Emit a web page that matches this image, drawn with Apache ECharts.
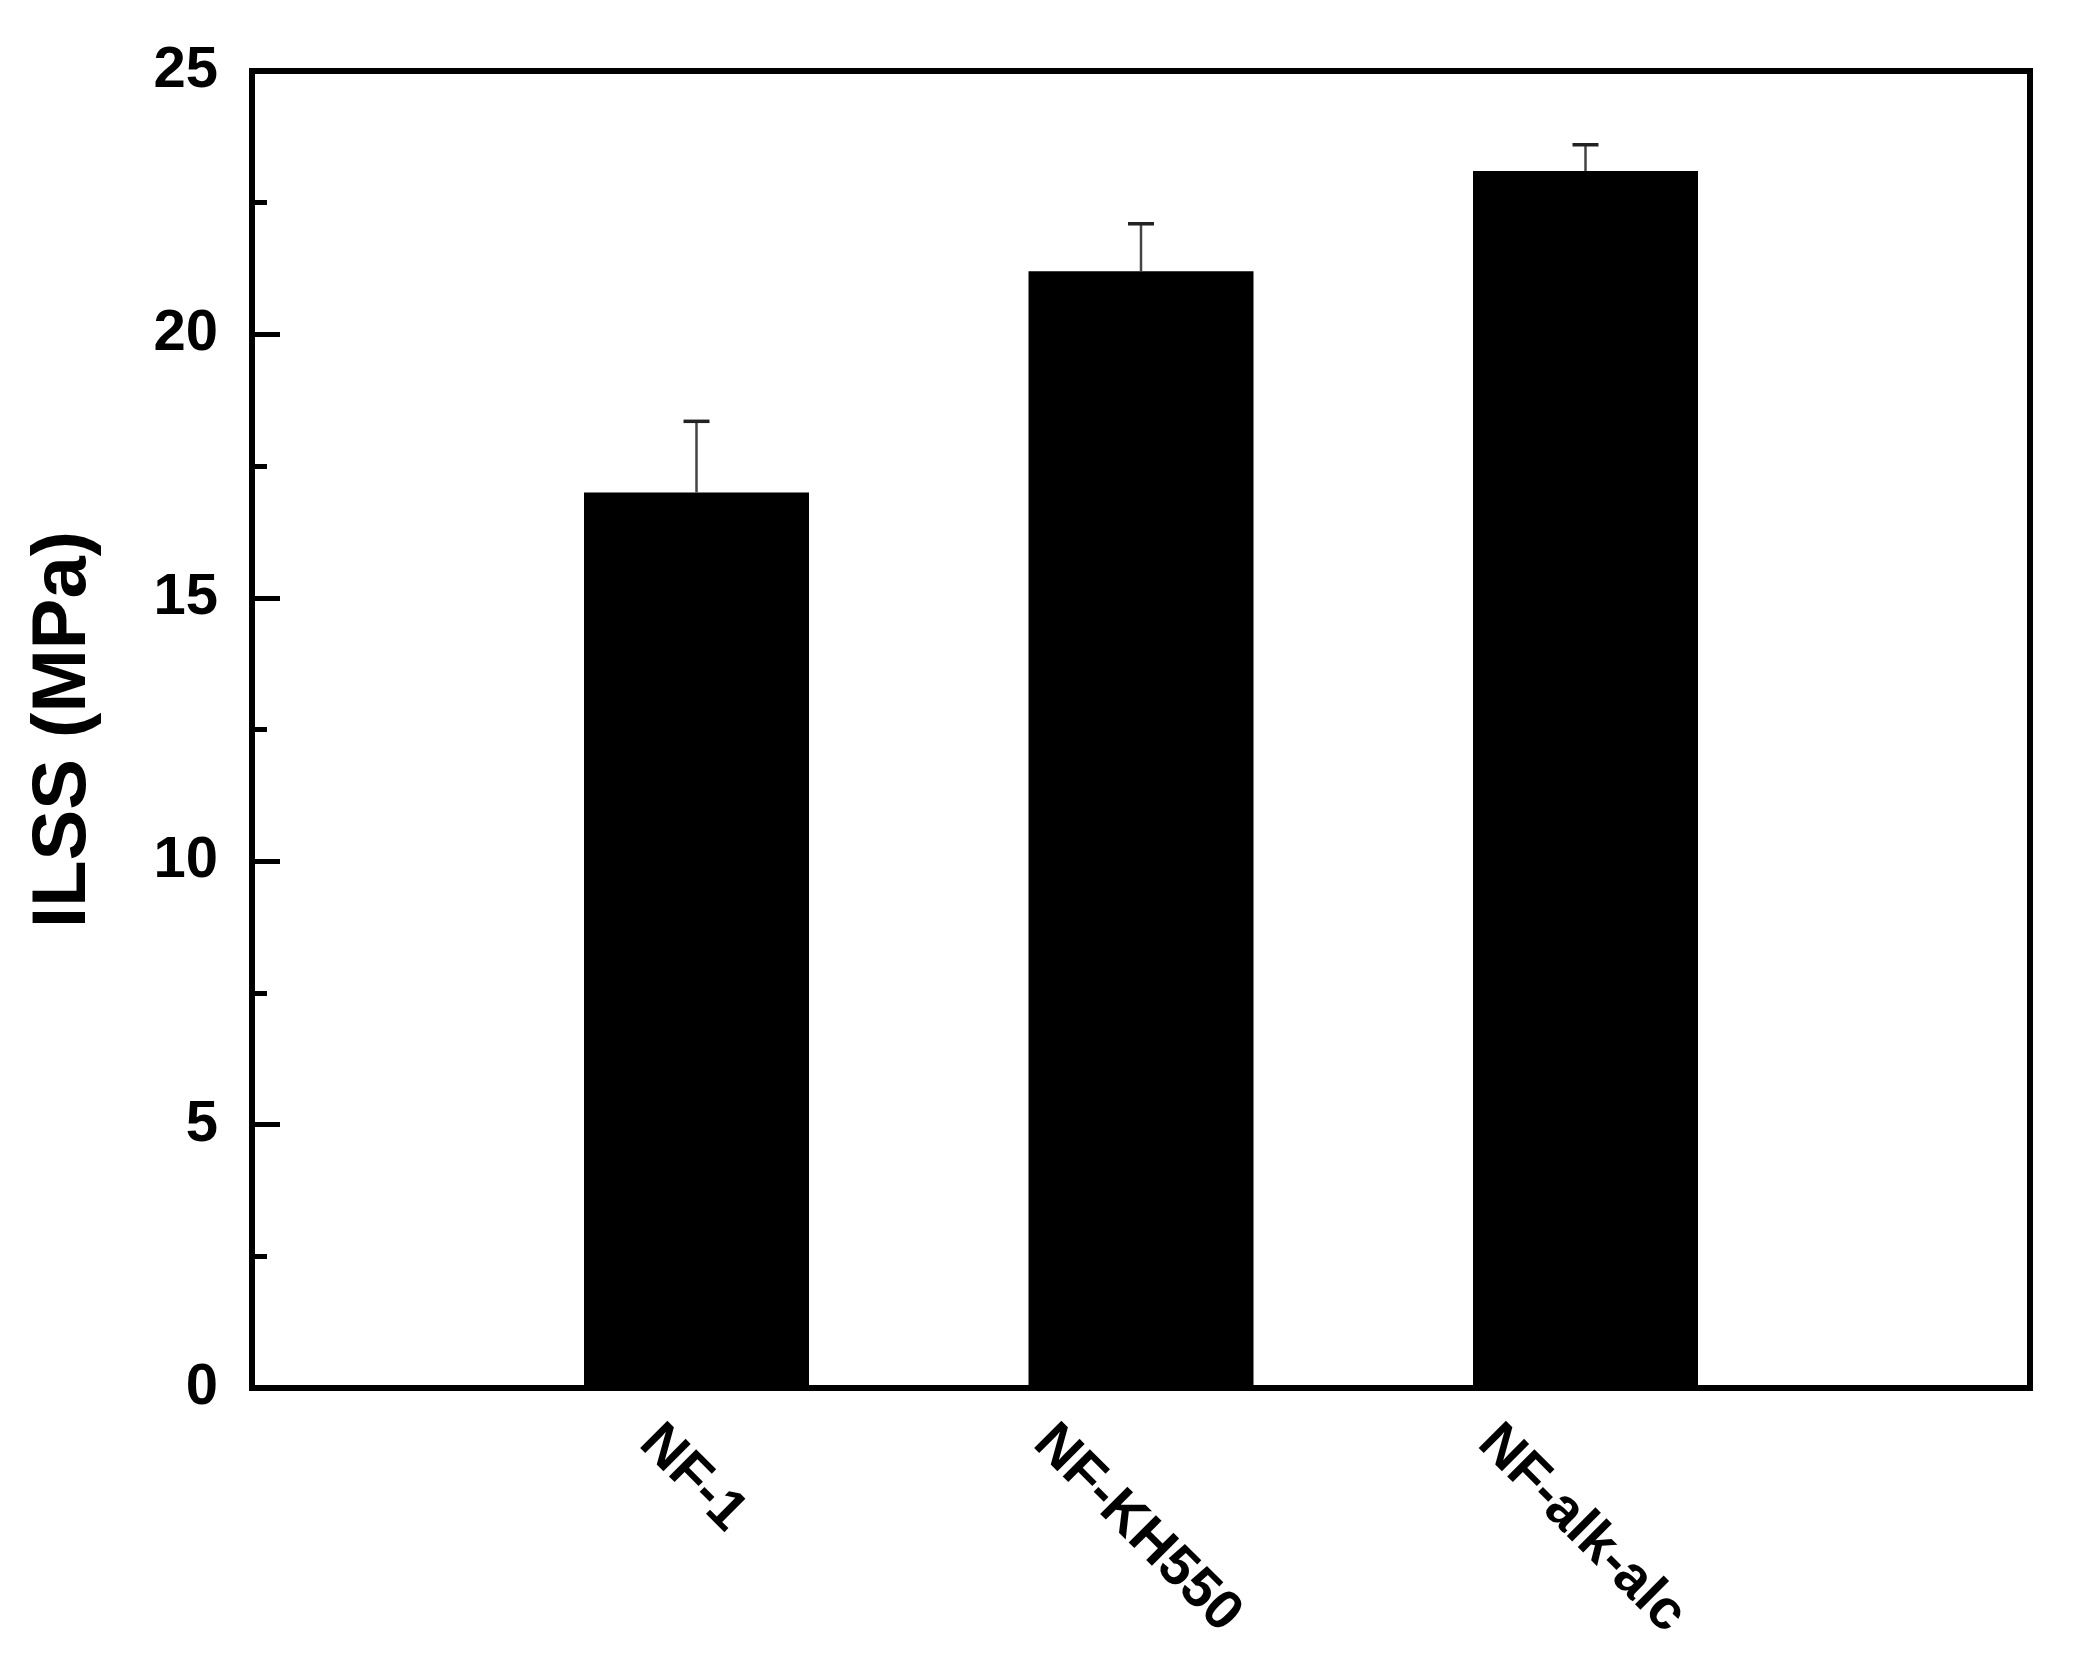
<!DOCTYPE html>
<html>
<head>
<meta charset="utf-8">
<script src="https://cdn.jsdelivr.net/npm/echarts@6/dist/echarts.min.js"></script>
<style>
html, body { margin: 0; background: #fff; }
#main { width: 2079px; height: 1666px; }
</style>
</head>
<body>
<div id="main"></div>
<script>
// values
const categories = ['NF-1', 'NF-KH550', 'NF-alk-alc'];
const ilss = [17.0, 21.2, 23.1];
const ilssErr = [1.35, 0.9, 0.5];
const yTicks = [0, 5, 10, 15, 20, 25];

const FONT = '"Liberation Sans", Arial, sans-serif';
const XFS = 56;

// width of the rotated category labels, so they can be centred under the bars
const ctx = document.createElement('canvas').getContext('2d');
ctx.font = 'bold ' + XFS + 'px ' + FONT;
const labelLen = categories.map((c) => ctx.measureText(c).width);

let axisData = [''].concat(categories, ['']);
let barData = ['-'].concat(ilss, ['-']);
let errData = categories.map((c, i) => [i + 1, ilss[i], ilssErr[i]]);
let labelData = categories.map((c, i) => [i + 1, 0]);

let chart = echarts.init(document.getElementById('main'));

chart.setOption({
    backgroundColor: '#fff',
    animation: false,
    grid: {
        left: 252, right: 49, top: 71, bottom: 278,
        show: true, borderColor: '#000', borderWidth: 6,
        outerBoundsMode: 'none'
    },
    xAxis: {
        type: 'category',
        data: axisData,
        boundaryGap: false,
        axisLine: { lineStyle: { color: '#000', width: 6 } },
        axisTick: { show: false },
        splitLine: { show: false },
        axisLabel: { show: false }
    },
    yAxis: {
        type: 'value',
        min: yTicks[0],
        max: yTicks[yTicks.length - 1],
        interval: yTicks[1] - yTicks[0],
        name: 'ILSS (MPa)',
        nameLocation: 'middle',
        nameRotate: 90,
        nameGap: 150,
        nameTextStyle: { color: '#000', fontFamily: FONT, fontWeight: 'bold', fontSize: 76 },
        axisLine: { show: true, lineStyle: { color: '#000', width: 6 } },
        axisTick: { show: true, inside: true, length: 28, lineStyle: { color: '#000', width: 5 } },
        minorTick: { show: true, splitNumber: 2, length: 15, lineStyle: { color: '#000', width: 5 } },
        splitLine: { show: false },
        axisLabel: {
            margin: 34,
            color: '#000',
            fontFamily: FONT,
            fontWeight: 'bold',
            fontSize: 58
        }
    },
    series: [
        {
            type: 'bar',
            data: barData,
            barWidth: 225,
            itemStyle: { color: '#000' },
            z: 2
        },
        {
            type: 'custom',
            data: errData,
            z: 3,
            renderItem: function (params, api) {
                let x = api.value(0);
                let v = api.value(1);
                let e = api.value(2);
                let base = api.coord([x, v]);
                let top = api.coord([x, v + e]);
                let hw = 13;
                return {
                    type: 'group',
                    children: [
                        {
                            type: 'line',
                            shape: { x1: top[0], y1: base[1], x2: top[0], y2: top[1] },
                            style: { stroke: '#444', lineWidth: 2.5 }
                        },
                        {
                            type: 'line',
                            shape: { x1: top[0] - hw, y1: top[1], x2: top[0] + hw, y2: top[1] },
                            style: { stroke: '#222', lineWidth: 3.5 }
                        }
                    ]
                };
            }
        },
        {
            // category labels, rotated 45 degrees and centred under each bar
            type: 'custom',
            data: labelData,
            clip: false,
            silent: true,
            renderItem: function (params, api) {
                let p = api.coord([api.value(0), api.value(1)]);
                let len = labelLen[params.dataIndex];
                let cy = p[1] + 32 + (len + 0.72 * XFS) * 0.3535;
                return {
                    type: 'text',
                    x: p[0] - 4,
                    y: cy,
                    rotation: -Math.PI / 4,
                    style: {
                        text: categories[params.dataIndex],
                        fill: '#000',
                        font: 'bold ' + XFS + 'px ' + FONT,
                        align: 'center',
                        verticalAlign: 'middle'
                    }
                };
            }
        }
    ]
});
</script>
</body>
</html>
